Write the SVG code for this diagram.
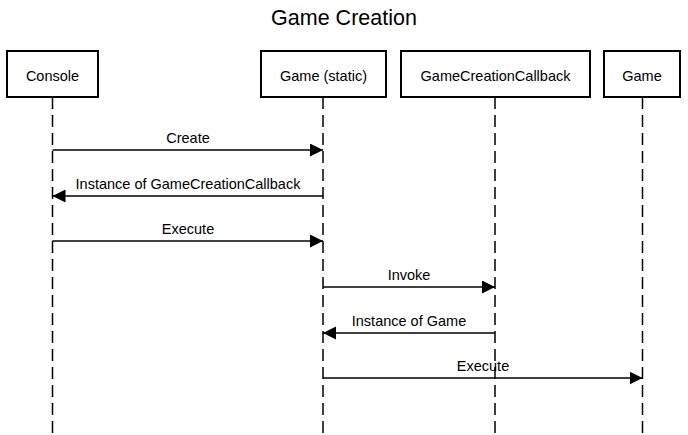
<svg xmlns="http://www.w3.org/2000/svg" width="688" height="435" viewBox="0 0 688 435">
<style>
.box{fill:#fff;stroke:#000;stroke-width:2}
.life{stroke:#000;stroke-width:1.5;stroke-dasharray:12 6;fill:none}
.msg{stroke:#000;stroke-width:1.5;fill:none;marker-end:url(#ah)}
text{font-family:"Liberation Sans",Arial,sans-serif;fill:#000;text-anchor:middle}
.lbl{font-size:14.5px}
.title{font-size:21.5px}
</style>
<defs>
<marker id="ah" markerUnits="userSpaceOnUse" markerWidth="14" markerHeight="14" refX="13" refY="6.5" orient="auto">
<path d="M0,0 L13,6.5 L0,13 Z" fill="#000"/>
</marker>
</defs>
<rect width="688" height="435" fill="#fff"/>
<text class="title" x="344" y="25">Game Creation</text>
<g id="lifelines">
<line class="life" x1="52.5" y1="97" x2="52.5" y2="435"/>
<line class="life" x1="323" y1="97" x2="323" y2="435"/>
<line class="life" x1="495" y1="97" x2="495" y2="435"/>
<line class="life" x1="642.5" y1="97" x2="642.5" y2="435"/>
</g>
<g id="console"><rect class="box" x="7" y="51" width="91" height="46"/><text class="lbl" x="52.5" y="80.5">Console</text></g>
<g id="game-static"><rect class="box" x="261" y="51" width="125" height="46"/><text class="lbl" x="323.5" y="80.5">Game (static)</text></g>
<g id="callback"><rect class="box" x="401" y="51" width="189" height="46"/><text class="lbl" x="495.5" y="80.5">GameCreationCallback</text></g>
<g id="game"><rect class="box" x="604" y="51" width="76" height="46"/><text class="lbl" x="642" y="80.5">Game</text></g>
<g id="connectors">
<line class="msg" x1="52.5" y1="150" x2="323" y2="150"/>
<text class="lbl" x="188" y="143">Create</text>
<line class="msg" x1="323" y1="196" x2="52.5" y2="196"/>
<text class="lbl" x="188" y="189">Instance of GameCreationCallback</text>
<line class="msg" x1="52.5" y1="241" x2="323" y2="241"/>
<text class="lbl" x="188" y="234">Execute</text>
<line class="msg" x1="323" y1="287" x2="495" y2="287"/>
<text class="lbl" x="409" y="280">Invoke</text>
<line class="msg" x1="495" y1="333" x2="323" y2="333"/>
<text class="lbl" x="409" y="326">Instance of Game</text>
<line class="msg" x1="323" y1="378" x2="642.5" y2="378"/>
<text class="lbl" x="483" y="371">Execute</text>
</g>
</svg>
